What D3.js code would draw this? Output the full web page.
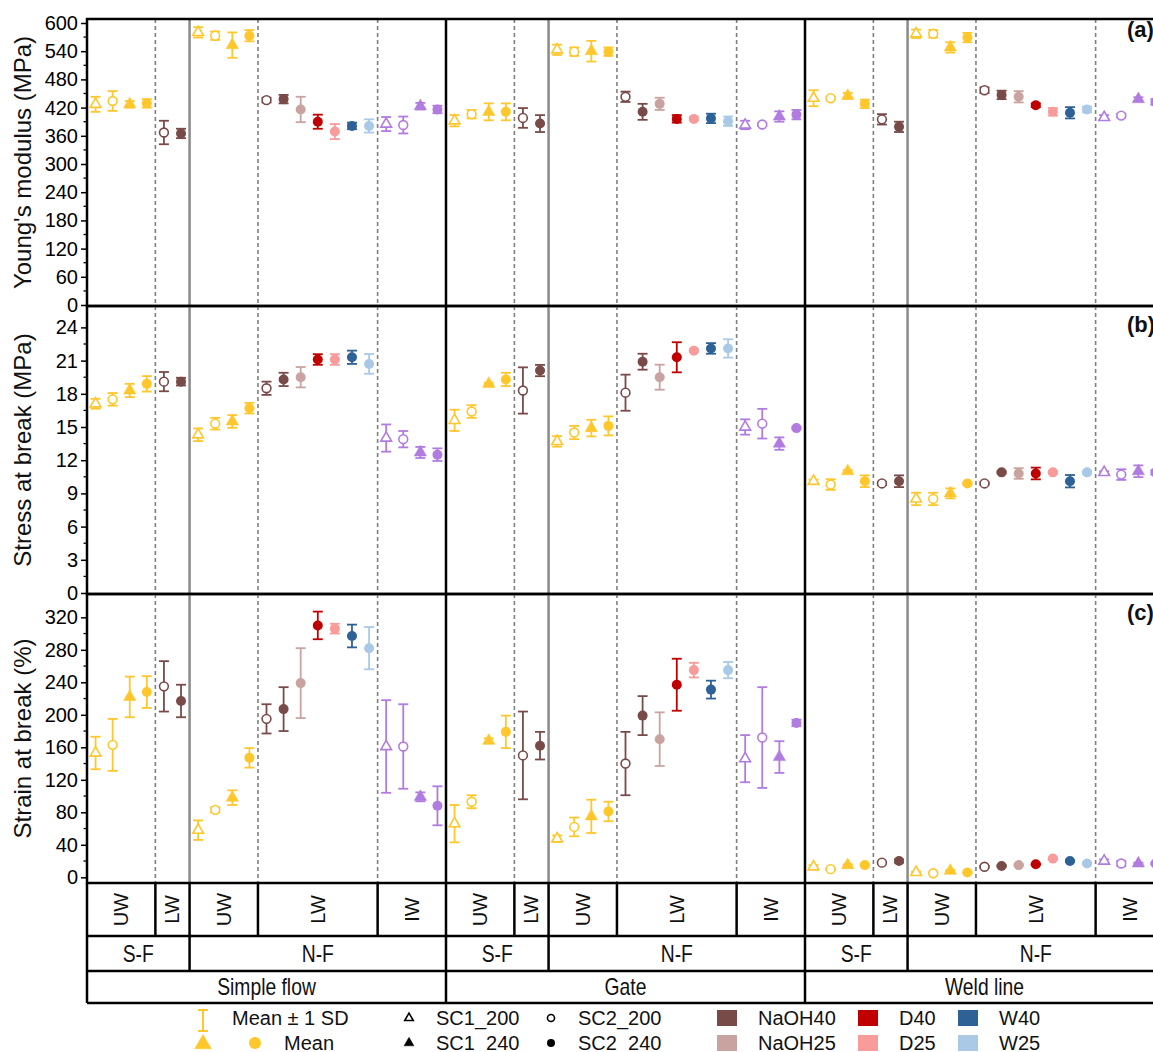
<!DOCTYPE html>
<html>
<head>
<meta charset="utf-8">
<script src="https://cdn.jsdelivr.net/npm/d3@7"></script>
<style>
  body { margin: 0; background: #fff; }
  svg { display: block; font-family: "Liberation Sans", Arial, sans-serif; }
</style>
</head>
<body>
<svg id="chart" width="1153" height="1052"></svg>
<script>
// ---- data ----
const groups = ['Simple flow', 'Gate', 'Weld line'];
// zones inside each group, in slot order
const zones = [
  { flow: 'S-F', name: 'UW', n: 4 },
  { flow: 'S-F', name: 'LW', n: 2 },
  { flow: 'N-F', name: 'UW', n: 4 },
  { flow: 'N-F', name: 'LW', n: 7 },
  { flow: 'N-F', name: 'IW', n: 4 }
];
// marker per slot: triO = SC1_200, cirO = SC2_200, triF = SC1_240, cirF = SC2_240
const slotShape = ['triO','cirO','triF','cirF', 'cirO','cirF', 'triO','cirO','triF','cirF',
  'cirO','cirF','cirF','cirF','cirF','cirF','cirF', 'triO','cirO','triF','cirF'];
const slotColor = ['UW','UW','UW','UW', 'NaOH40','NaOH40', 'UW','UW','UW','UW',
  'NaOH40','NaOH40','NaOH25','D40','D25','W40','W25', 'IW','IW','IW','IW'];

// Young's modulus (MPa), one row per group
const modulusMean = [
  [427,434,427,429, 367,365, 580,573,553,573, 436,438,416,390,369,381,381, 385,383,423,416],
  [392,406,411,411, 398,386, 543,539,540,539, 443,411,428,396,396,397,391, 383,384,401,405],
  [440,440,445,428, 395,379, 577,577,548,569, 457,447,443,425,411,409,416, 399,403,438,432]
];
const modulusSD = [
  [16,21,7,9, 25,10, 11,9,27,12, 5,9,27,15,16,7,14, 15,18,7,8],
  [12,9,18,18, 21,18, 11,9,22,9, 11,17,13,8,3,10,10, 9,3,11,10],
  [17,3,6,9, 11,11, 9,8,11,10, 6,9,12,4,8,12,6, 5,4,4,6]
];
// Stress at break (MPa)
const stressMean = [
  [17.1,17.5,18.3,18.9, 19.1,19.1, 14.3,15.3,15.5,16.7, 18.5,19.3,19.5,21.1,21.1,21.3,20.7, 14.0,13.9,12.7,12.5],
  [15.6,16.4,18.9,19.3, 18.3,20.1, 13.7,14.5,14.9,15.1, 18.1,20.9,19.5,21.3,21.9,22.1,22.1, 15.0,15.3,13.5,14.9],
  [10.1,9.8,11.0,10.1, 9.9,10.1, 8.5,8.5,9.0,9.9, 9.9,10.9,10.8,10.8,10.9,10.1,10.9, 10.9,10.7,11.0,10.9]
];
const stressSD = [
  [0.45,0.57,0.6,0.7, 0.87,0.35, 0.57,0.53,0.57,0.48, 0.6,0.6,0.92,0.48,0.48,0.6,0.89, 1.23,0.74,0.5,0.57],
  [0.96,0.57,0.1,0.6, 2.09,0.51, 0.48,0.6,0.75,0.86, 1.63,0.72,1.13,1.36,0.1,0.48,0.83, 0.69,1.34,0.56,0.1],
  [0.15,0.48,0.1,0.53, 0.15,0.53, 0.56,0.56,0.45,0.1, 0.1,0.1,0.48,0.53,0.1,0.56,0.1, 0.1,0.48,0.53,0.2]
];
// Strain at break (%)
const strainMean = [
  [153,163,222,228, 235,217, 58,83,98,147, 195,207,239,310,306,297,282, 161,161,99,88],
  [66,93,168,179, 150,162, 47.5,62,75,81, 140,199,170,237,255,231,255, 146,172,148,190],
  [13,10,15,15, 18,20, 6,5,8,6, 13,14,15,16,23,20,17, 20,17,17,17]
];
const strainSD = [
  [20,32,25,19.5, 31,20, 12,3,9,12, 18,27,43,17,6,14,26, 57,52,5.5,24],
  [23,8,3,20, 54,17, 4,11.5,20.5,12, 39,24,33,32,9,11,10, 29,62,19.5,4],
  [2,1,1,1, 1,2, 1,1,1,1, 1,1,1,1,1,1,1, 2,3,1,1]
];

const legendShapes = [['triO','SC1_200'], ['cirO','SC2_200'], ['triF','SC1_240'], ['cirF','SC2_240']];
const legendColors = [['NaOH40','NaOH40'], ['D40','D40'], ['W40','W40'], ['NaOH25','NaOH25'], ['D25','D25'], ['W25','W25']];

const colors = {
  UW: '#ffc72c', IW: '#b07ce0',
  NaOH40: '#784b49', NaOH25: '#c9a3a0',
  D40: '#c00000', D25: '#f79b9b',
  W40: '#2e6296', W25: '#a9c9e7'
};

// ---- layout ----
const svg = d3.select('#chart');
const X0 = 87, GW = 359, NSLOT = 21;
const x = d3.scaleLinear().domain([0, NSLOT * 3]).range([X0, X0 + GW * 3]);
const XR = X0 + GW * 3;

const panels = [
  { title: "Young's modulus (MPa)", mean: modulusMean, sd: modulusSD,
    y: d3.scaleLinear().domain([0, 600]).range([305, 23]), step: 60,
    top: 19, bottom: 306, label: '(a)', labelY: 37 },
  { title: 'Stress at break (MPa)', mean: stressMean, sd: stressSD,
    y: d3.scaleLinear().domain([0, 24]).range([593, 327.4]), step: 3,
    top: 306, bottom: 594, label: '(b)', labelY: 332 },
  { title: 'Strain at break (%)', mean: strainMean, sd: strainSD,
    y: d3.scaleLinear().domain([0, 320]).range([877.3, 617.3]), step: 40,
    top: 594, bottom: 883, label: '(c)', labelY: 620 }
];

// slot boundaries inside a group
const bounds = [];
{ let acc = 0; zones.forEach(z => { acc += z.n; bounds.push(acc); }); }
// bounds = [4, 6, 10, 17, 21]

function marker(g, shape, cx, cy, col, s) {
  s = s || 1;
  if (shape === 'cirO' || shape === 'cirF') {
    g.append('circle')
      .attr('cx', cx).attr('cy', cy)
      .attr('r', (shape === 'cirO' ? 4.4 : 5) * s)
      .attr('fill', shape === 'cirO' ? '#fff' : col)
      .attr('stroke', col).attr('stroke-width', shape === 'cirO' ? 1.6 : 0);
  } else {
    g.append('path')
      .attr('d', d3.symbol().type(d3.symbolTriangle).size((shape === 'triO' ? 50 : 66) * s * s)())
      .attr('transform', `translate(${cx},${cy})`)
      .attr('fill', shape === 'triO' ? '#fff' : col)
      .attr('stroke', col).attr('stroke-width', shape === 'triO' ? 1.6 : 0.5)
      .attr('stroke-linejoin', 'miter');
  }
}

panels.forEach(p => {
  const g = svg.append('g');

  // inner separators
  for (let gi = 0; gi < 3; gi++) {
    bounds.forEach(b => {
      const xx = x(gi * NSLOT + b);
      if (b === NSLOT) return;
      const line = g.append('line')
        .attr('x1', xx).attr('x2', xx)
        .attr('y1', p.top).attr('y2', p.bottom);
      if (b === 6) {
        line.attr('stroke', '#8a8a8a').attr('stroke-width', 2.5);
      } else {
        line.attr('stroke', '#7f7f7f').attr('stroke-width', 1.6).attr('stroke-dasharray', '4,3');
      }
    });
  }

  // error bars + markers
  for (let gi = 0; gi < 3; gi++) {
    p.mean[gi].forEach((m, i) => {
      const cx = x(gi * NSLOT + i + 0.5);
      const col = colors[slotColor[i]];
      const sd = p.sd[gi][i];
      const y1 = p.y(m - sd), y2 = p.y(m + sd);
      g.append('line').attr('x1', cx).attr('x2', cx).attr('y1', y1).attr('y2', y2)
        .attr('stroke', col).attr('stroke-width', 1.8);
      [y1, y2].forEach(yy => {
        g.append('line').attr('x1', cx - 5).attr('x2', cx + 5).attr('y1', yy).attr('y2', yy)
          .attr('stroke', col).attr('stroke-width', 1.8);
      });
      marker(g, slotShape[i], cx, p.y(m), col);
    });
  }

  // group separators + frame
  [1, 2, 3].forEach(k => {
    g.append('line').attr('x1', x(k * NSLOT)).attr('x2', x(k * NSLOT))
      .attr('y1', p.top).attr('y2', p.bottom)
      .attr('stroke', '#000').attr('stroke-width', 2.5);
  });
  g.append('rect').attr('x', X0).attr('y', p.top)
    .attr('width', XR - X0).attr('height', p.bottom - p.top)
    .attr('fill', 'none').attr('stroke', '#000').attr('stroke-width', 2.5);

  // y axis
  const [d0, d1] = p.y.domain();
  const major = d3.range(d0, d1 + p.step / 2, p.step);
  const minor = d3.range(d0 + p.step / 2, d1, p.step);
  const ax = d3.axisLeft(p.y).tickValues(major).tickSize(6).tickPadding(3).tickFormat(d3.format('d'));
  const axg = g.append('g').attr('transform', `translate(${X0},0)`).call(ax);
  axg.select('.domain').remove();
  axg.selectAll('line').attr('stroke', '#000').attr('stroke-width', 1.5);
  axg.selectAll('text').attr('font-size', 20).attr('fill', '#000')
    .attr('font-family', '"Liberation Sans", Arial, sans-serif');
  minor.forEach(v => {
    g.append('line').attr('x1', X0 - 3.5).attr('x2', X0).attr('y1', p.y(v)).attr('y2', p.y(v))
      .attr('stroke', '#000').attr('stroke-width', 1.3);
  });

  g.append('text')
    .attr('transform', `translate(31,${(p.top + p.bottom) / 2}) rotate(-90)`)
    .attr('text-anchor', 'middle').attr('font-size', 24).attr('fill', '#111')
    .text(p.title);

  g.append('text').attr('x', 1127).attr('y', p.labelY)
    .attr('font-size', 22).attr('font-weight', 'bold').attr('fill', '#111')
    .text(p.label);
});

// ---- category table ----
const T0 = 883, T1 = 936, T2 = 971, T3 = 1003;
const tg = svg.append('g');
[T1, T2, T3].forEach(yy => {
  tg.append('line').attr('x1', X0).attr('x2', XR).attr('y1', yy).attr('y2', yy)
    .attr('stroke', '#000').attr('stroke-width', 2.5);
});
tg.append('line').attr('x1', X0).attr('x2', X0).attr('y1', T0).attr('y2', T3)
  .attr('stroke', '#000').attr('stroke-width', 2.5);

// condensed label, like the narrow face in the original
function narrowText(cx, cy, txt) {
  tg.append('text')
    .attr('transform', `translate(${cx},${cy}) scale(0.84,1)`)
    .attr('text-anchor', 'middle').attr('font-size', 23).attr('fill', '#111')
    .text(txt);
}

for (let gi = 0; gi < 3; gi++) {
  let start = 0;
  zones.forEach(z => {
    const a = gi * NSLOT + start, b = a + z.n;
    const bottomY = b % NSLOT === 0 ? T3 : (start + z.n === 6 ? T2 : T1);
    tg.append('line').attr('x1', x(b)).attr('x2', x(b)).attr('y1', T0).attr('y2', bottomY)
      .attr('stroke', '#000').attr('stroke-width', 2.5);
    const cx = x((a + b) / 2);
    tg.append('text')
      .attr('transform', `translate(${cx + 7},${(T0 + T1) / 2}) rotate(-90)`)
      .attr('text-anchor', 'middle').attr('font-size', 20).attr('fill', '#111')
      .text(z.name);
    start += z.n;
  });
  // S-F / N-F row
  [['S-F', 0, 6], ['N-F', 6, 21]].forEach(([lbl, a, b]) => {
    narrowText(x(gi * NSLOT + (a + b) / 2), (T1 + T2) / 2 + 8, lbl);
  });
  narrowText(x(gi * NSLOT + NSLOT / 2), (T2 + T3) / 2 + 7.5, groups[gi]);
}

// ---- legend ----
const lg = svg.append('g').attr('font-size', 20).attr('fill', '#111');
const yl1 = 1018, yl2 = 1043;
// error bar icon
lg.append('line').attr('x1', 203).attr('x2', 203).attr('y1', 1010).attr('y2', 1031)
  .attr('stroke', colors.UW).attr('stroke-width', 2);
[1010, 1031].forEach(yy => lg.append('line').attr('x1', 198).attr('x2', 208)
  .attr('y1', yy).attr('y2', yy).attr('stroke', colors.UW).attr('stroke-width', 2));
lg.append('text').attr('x', 232).attr('y', yl1 + 7).text('Mean \u00b1 1 SD');
marker(lg, 'triF', 203, yl2 + 1, colors.UW, 1.35);
marker(lg, 'cirF', 255, yl2, colors.UW, 1.2);
lg.append('text').attr('x', 284).attr('y', yl2 + 7).text('Mean');

legendShapes.forEach(([shape, lbl], i) => {
  const cx = 409 + (i % 2) * 142, cy = i < 2 ? yl1 : yl2;
  marker(lg, shape, cx, cy, '#000', 0.8);
  lg.append('text').attr('x', cx + 27).attr('y', cy + 7).text(lbl);
});

legendColors.forEach(([key, lbl], i) => {
  const col = i % 3, row = Math.floor(i / 3);
  const sx = [717, 858, 958][col], sy = row === 0 ? 1010 : 1035;
  lg.append('rect').attr('x', sx).attr('y', sy).attr('width', 20).attr('height', 16)
    .attr('fill', colors[key]);
  lg.append('text').attr('x', sx + 41).attr('y', sy + 15).text(lbl);
});
</script>
</body>
</html>
